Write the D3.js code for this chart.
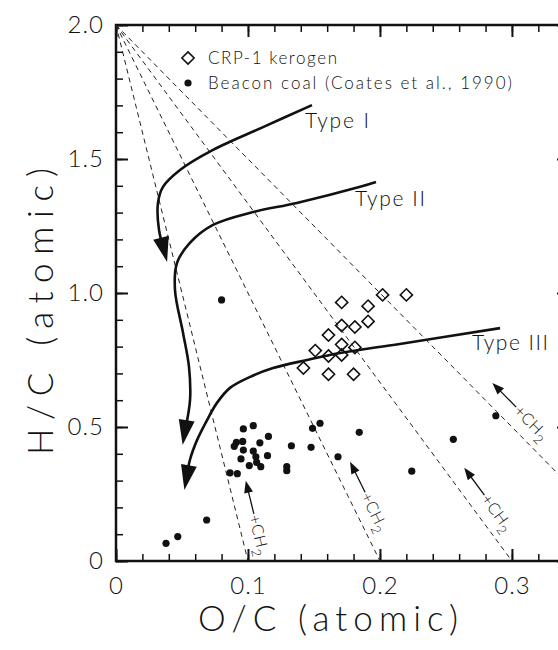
<!DOCTYPE html>
<html>
<head>
<meta charset="utf-8">
<script src="https://cdn.jsdelivr.net/npm/d3@7"></script>
<style>
  body { margin: 0; background: #fff; }
  svg text { font-family: Lato, "Open Sans", sans-serif; font-weight: 300; fill: #111; }
</style>
</head>
<body>
<script>
// CRP-1 kerogen (open diamonds)
const kerogenOC = [0.142, 0.151, 0.161, 0.161, 0.161, 0.171, 0.171, 0.171, 0.171, 0.181, 0.181, 0.180, 0.191, 0.191, 0.202, 0.220]
const kerogenHC = [0.720, 0.785, 0.843, 0.765, 0.697, 0.965, 0.879, 0.808, 0.769, 0.873, 0.797, 0.697, 0.951, 0.894, 0.993, 0.993]

// Beacon coal (Coates et al., 1990), filled dots
const coalOC = [0.080, 0.0965, 0.104, 0.1155, 0.0912, 0.096, 0.0896, 0.109, 0.0965, 0.104, 0.1148, 0.0947, 0.106, 0.1066, 0.101, 0.1097,
  0.0864, 0.0919, 0.1294, 0.1294, 0.1329, 0.1478, 0.1489, 0.1546, 0.1682, 0.1843, 0.2241, 0.2556, 0.2878, 0.0687, 0.0468, 0.0379]
const coalHC = [0.974, 0.493, 0.505, 0.465, 0.443, 0.446, 0.428, 0.441, 0.414, 0.410, 0.393, 0.381, 0.389, 0.368, 0.356, 0.352,
  0.329, 0.326, 0.352, 0.337, 0.430, 0.424, 0.495, 0.514, 0.389, 0.480, 0.335, 0.454, 0.542, 0.153, 0.091, 0.066]

// maturation paths (last point = arrow tip)
const typeIOC = [0.1485, 0.111, 0.0735, 0.0485, 0.0356, 0.0318, 0.0326, 0.0387]
const typeIHC = [1.701, 1.618, 1.534, 1.459, 1.396, 1.336, 1.235, 1.116]
const typeIIOC = [0.197, 0.185, 0.137, 0.1038, 0.0735, 0.056, 0.0462, 0.0447, 0.0508, 0.0553, 0.0561, 0.0505]
const typeIIHC = [1.414, 1.396, 1.336, 1.302, 1.254, 1.187, 1.112, 1.011, 0.851, 0.724, 0.601, 0.433]
const typeIIIOC = [0.291, 0.215, 0.1698, 0.1448, 0.119, 0.1016, 0.0864, 0.0765, 0.069, 0.0614, 0.056, 0.0518]
const typeIIIHC = [0.869, 0.810, 0.776, 0.750, 0.720, 0.687, 0.646, 0.590, 0.526, 0.451, 0.377, 0.265]

// +CH2 lines: from (0, 2.0) down to O/C = ch2Ends at H/C = 0
const ch2Ends = [0.1, 0.2, 0.3, 0.4]
const ch2At = [0.858, 0.829, 0.845, 0.690]   // fraction along the line where the arrow sits

const xTicks = [0, 0.1, 0.2, 0.3]
const yTicks = [0, 0.5, 1.0, 1.5, 2.0]

const width = 558, height = 650
const xMax = 0.344

const svg = d3.select("body").append("svg")
  .attr("width", width)
  .attr("height", height)

const x = d3.scaleLinear().domain([0, xMax]).range([116, 570])
const y = d3.scaleLinear().domain([0, 2]).range([561, 25])

const xMinor = d3.range(0, xMax, 0.02)
const yMinor = d3.range(0, 2.001, 0.1)

function styleAxis(g, w) {
  g.select(".domain").remove()
  g.selectAll(".tick line").attr("stroke", "#111").attr("stroke-width", w)
}

// bottom
svg.append("g").attr("transform", `translate(0,${y(0)})`)
  .call(d3.axisBottom(x).tickValues(xMinor).tickSize(-7).tickFormat(""))
  .call(g => styleAxis(g, 1.5))
svg.append("g").attr("transform", `translate(0,${y(0)})`)
  .call(d3.axisBottom(x).tickValues(xTicks).tickSizeInner(-12).tickSizeOuter(0).tickPadding(16)
    .tickFormat(d => d === 0 ? "0" : d3.format(".1f")(d)))
  .call(g => styleAxis(g, 2))
  .call(g => g.selectAll("text").attr("font-size", 24).attr("letter-spacing", 1).attr("fill", "#111"))

// top
svg.append("g").attr("transform", `translate(0,${y(2)})`)
  .call(d3.axisTop(x).tickValues(xMinor).tickSize(-7).tickFormat(""))
  .call(g => styleAxis(g, 1.5))
svg.append("g").attr("transform", `translate(0,${y(2)})`)
  .call(d3.axisTop(x).tickValues(xTicks).tickSize(-12).tickFormat(""))
  .call(g => styleAxis(g, 2))

// left
svg.append("g").attr("transform", `translate(${x(0)},0)`)
  .call(d3.axisLeft(y).tickValues(yMinor).tickSize(-7).tickFormat(""))
  .call(g => styleAxis(g, 1.5))
svg.append("g").attr("transform", `translate(${x(0)},0)`)
  .call(d3.axisLeft(y).tickValues(yTicks).tickSizeInner(-12).tickSizeOuter(0).tickPadding(12)
    .tickFormat(d => d === 0 ? "0" : d3.format(".1f")(d)))
  .call(g => styleAxis(g, 2))
  .call(g => g.selectAll("text").attr("font-size", 24).attr("letter-spacing", 1).attr("fill", "#111"))

// right
svg.append("g").attr("transform", `translate(${x(xMax)},0)`)
  .call(d3.axisRight(y).tickValues(yMinor).tickSize(-7).tickFormat(""))
  .call(g => styleAxis(g, 1.5))
svg.append("g").attr("transform", `translate(${x(xMax)},0)`)
  .call(d3.axisRight(y).tickValues(yTicks).tickSize(-13).tickFormat(""))
  .call(g => styleAxis(g, 2))

// frame
svg.append("rect")
  .attr("x", x(0)).attr("y", y(2))
  .attr("width", x(xMax) - x(0)).attr("height", y(0) - y(2))
  .attr("fill", "none").attr("stroke", "#111").attr("stroke-width", 2.5)

// dashed +CH2 lines
svg.append("g").selectAll("line")
  .data(ch2Ends)
  .enter().append("line")
  .attr("x1", x(0)).attr("y1", y(2))
  .attr("x2", d => x(d)).attr("y2", y(0))
  .attr("stroke", "#222").attr("stroke-width", 1).attr("stroke-dasharray", "5,4")

// +CH2 arrows and labels
ch2Ends.forEach((x0, i) => {
  const ox = x(0), oy = y(2)
  const dx = x(x0) - ox, dy = y(0) - oy
  const len = Math.hypot(dx, dy)
  const ux = dx / len, uy = dy / len
  const nx = uy, ny = -ux
  const off = 17
  const tx = ox + ux * len * ch2At[i] + nx * off
  const ty = oy + uy * len * ch2At[i] + ny * off
  const aLen = 34
  const ex = tx + ux * aLen, ey = ty + uy * aLen
  svg.append("line")
    .attr("x1", tx + ux * 8).attr("y1", ty + uy * 8)
    .attr("x2", ex).attr("y2", ey)
    .attr("stroke", "#111").attr("stroke-width", 1.3)
  const hl = 12, hw = 4.5
  svg.append("path")
    .attr("d", `M${tx},${ty}L${tx + ux * hl + nx * hw},${ty + uy * hl + ny * hw}L${tx + ux * hl - nx * hw},${ty + uy * hl - ny * hw}Z`)
    .attr("fill", "#111")
  const ang = Math.atan2(uy, ux) * 180 / Math.PI
  const lab = svg.append("text")
    .attr("transform", `translate(${ex + ux * 1},${ey + uy * 1}) rotate(${ang})`)
    .attr("dy", "0.35em")
    .attr("font-size", 16)
    .attr("letter-spacing", 0.5)
  lab.append("tspan").text("+CH")
  lab.append("tspan").attr("font-size", 13).attr("dy", "0.45em").text("2")
})

// maturation curves with arrowheads
const pathLine = d3.line()
  .x(d => x(d[0])).y(d => y(d[1]))
  .curve(d3.curveCatmullRom.alpha(0.5))

function drawPath(oc, hc) {
  const pts = oc.map((v, i) => [v, hc[i]])
  svg.append("path")
    .attr("d", pathLine(pts.slice(0, -1).concat([[
      pts[pts.length - 2][0] * 0.3 + pts[pts.length - 1][0] * 0.7,
      pts[pts.length - 2][1] * 0.3 + pts[pts.length - 1][1] * 0.7]])))
    .attr("fill", "none").attr("stroke", "#111").attr("stroke-width", 2.6)
  const tip = pts[pts.length - 1], prev = pts[pts.length - 2]
  const px = x(tip[0]), py = y(tip[1])
  let ux = px - x(prev[0]), uy = py - y(prev[1])
  const l = Math.hypot(ux, uy); ux /= l; uy /= l
  const hl = 25, hw = 8
  const bx = px - ux * hl, by = py - uy * hl
  svg.append("path")
    .attr("d", `M${px},${py}L${bx + uy * hw},${by - ux * hw}L${bx - uy * hw},${by + ux * hw}Z`)
    .attr("fill", "#111")
}
drawPath(typeIOC, typeIHC)
drawPath(typeIIOC, typeIIHC)
drawPath(typeIIIOC, typeIIIHC)

// type labels
svg.append("text").attr("x", 305).attr("y", 128).attr("font-size", 21)
  .attr("textLength", 64).attr("lengthAdjust", "spacing").text("Type I")
svg.append("text").attr("x", 355).attr("y", 206).attr("font-size", 21)
  .attr("textLength", 70).attr("lengthAdjust", "spacing").text("Type II")
svg.append("text").attr("x", 472).attr("y", 350).attr("font-size", 21)
  .attr("textLength", 76).attr("lengthAdjust", "spacing").text("Type III")

// diamonds
const diamond = d3.symbol().type(d3.symbolDiamond2).size(95)
svg.append("g").selectAll("path")
  .data(kerogenOC)
  .enter().append("path")
  .attr("transform", (d, i) => `translate(${x(d)},${y(kerogenHC[i])})`)
  .attr("d", diamond)
  .attr("fill", "none").attr("stroke", "#111").attr("stroke-width", 1.6)

// dots
svg.append("g").selectAll("circle")
  .data(coalOC)
  .enter().append("circle")
  .attr("cx", d => x(d))
  .attr("cy", (d, i) => y(coalHC[i]))
  .attr("r", 3.6)
  .attr("fill", "#111")

// legend
svg.append("path")
  .attr("transform", "translate(188,58)")
  .attr("d", diamond)
  .attr("fill", "none").attr("stroke", "#111").attr("stroke-width", 1.6)
svg.append("circle").attr("cx", 188).attr("cy", 83).attr("r", 3.6).attr("fill", "#111")
svg.append("text").attr("x", 208).attr("y", 64).attr("font-size", 17)
  .attr("textLength", 129).attr("lengthAdjust", "spacing").text("CRP-1 kerogen")
svg.append("text").attr("x", 208).attr("y", 89).attr("font-size", 17)
  .attr("textLength", 304).attr("lengthAdjust", "spacing").text("Beacon coal (Coates et al., 1990)")

// axis titles
svg.append("text").attr("x", 198).attr("y", 631).attr("font-size", 35)
  .attr("textLength", 260).attr("lengthAdjust", "spacing").text("O/C (atomic)")
svg.append("text")
  .attr("transform", "translate(53,455) rotate(-90)")
  .attr("font-size", 35)
  .attr("textLength", 287).attr("lengthAdjust", "spacing").text("H/C (atomic)")
</script>
</body>
</html>
